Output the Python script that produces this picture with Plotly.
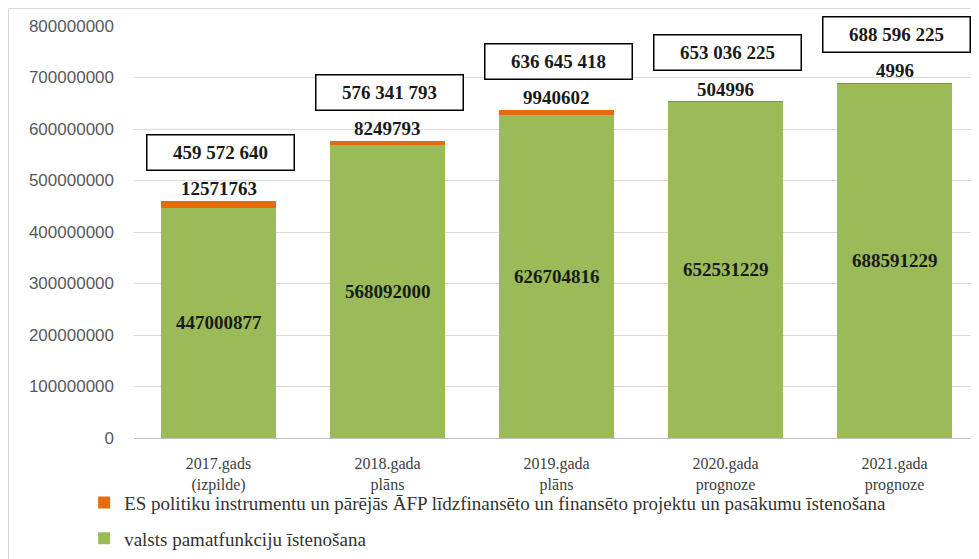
import plotly.graph_objects as go

categories = ["2017.gads<br>(izpilde)", "2018.gada<br>plāns", "2019.gada<br>plāns",
              "2020.gada<br>prognoze", "2021.gada<br>prognoze"]
green_name = "valsts pamatfunkciju īstenošana"
orange_name = "ES politiku instrumentu un pārējās ĀFP līdzfinansēto un finansēto projektu un pasākumu īstenošana"
green_vals = [447000877, 568092000, 626704816, 652531229, 688591229]
orange_vals = [12571763, 8249793, 9940602, 504996, 4996]
totals = [g + o for g, o in zip(green_vals, orange_vals)]
y_ticks = [0, 100000000, 200000000, 300000000, 400000000, 500000000, 600000000, 700000000, 800000000]

GREEN = "#9BBB59"
ORANGE = "#E46C0A"
SERIF = "Liberation Serif, Times New Roman, serif"
SANS = "Liberation Sans, Arial, sans-serif"

# The page body has an 8px margin, so the figure is 8px smaller than the window
W, H = 971, 551
L, T, B = 126, 18, 121
PW = W - L
PH = H - T - B

fig = go.Figure()
fig.add_trace(go.Bar(x=categories, y=green_vals, name=green_name, marker_color=GREEN,
                     marker_line_width=0, width=0.68, legendgroup="g", legendrank=2))
fig.add_trace(go.Bar(x=categories, y=orange_vals, name=orange_name, marker_color=ORANGE,
                     marker_line_width=0, width=0.68, legendgroup="o", legendrank=1))

def fmt_space(v):
    return f"{v:,}".replace(",", " ")

annotations = []
for c, g, o, t in zip(categories, green_vals, orange_vals, totals):
    annotations.append(dict(x=c, y=g / 2, text=f"<b>{g}</b>", showarrow=False,
                            font=dict(family=SERIF, size=19, color="#1a1a1a")))
    annotations.append(dict(x=c, y=t, text=f"<b>{o}</b>", showarrow=False, yanchor="bottom",
                            yshift=0, font=dict(family=SERIF, size=19, color="#1a1a1a")))
    annotations.append(dict(x=c, y=t, text=f"<b>{fmt_space(t)}</b>", showarrow=False,
                            yanchor="middle", yshift=49, xshift=2, width=140, height=28,
                            bordercolor="#000000", borderwidth=1.5, borderpad=3,
                            bgcolor="white",
                            font=dict(family=SERIF, size=19, color="#1a1a1a")))

fig.update_layout(
    barmode="stack",
    width=W, height=H,
    margin=dict(l=L, r=0, t=T, b=B, autoexpand=False),
    paper_bgcolor="white", plot_bgcolor="white",
    annotations=annotations,
    showlegend=True,
    legend=dict(x=-0.059, y=-0.111, xanchor="left", yanchor="top",
                traceorder="grouped", tracegroupgap=8,
                font=dict(family=SERIF, size=19, color="#333333"),
                itemwidth=30, bgcolor="rgba(0,0,0,0)"),
    xaxis=dict(range=[-0.5, 4.5], showgrid=False, showline=True, linecolor="#BFBFBF",
               linewidth=1, ticks="", tickfont=dict(family=SERIF, size=16, color="#404040"),
               ticklabelstandoff=11, automargin=False),
    yaxis=dict(range=[0, 800000000], tickvals=y_ticks, tickformat="d",
               showgrid=True, gridcolor="#D9D9D9", gridwidth=1, zeroline=False,
               tickfont=dict(family=SANS, size=17, color="#595959"),
               ticklabelstandoff=19, automargin=False),
    shapes=[dict(type="rect", xref="paper", yref="paper",
                 x0=(0.5 - L) / PW, x1=1.01,
                 y0=-(B + 5) / PH, y1=(PH + T - 0.5) / PH,
                 line=dict(color="#D9D9D9", width=1), layer="below")],
)

fig.write_html("out.html")
